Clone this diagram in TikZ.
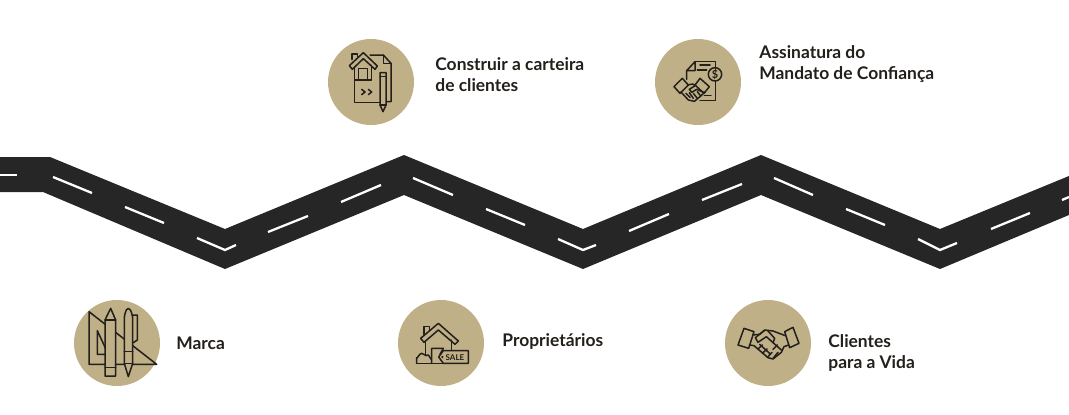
\documentclass[tikz,border=0pt]{standalone}
\usepackage{fontspec}
\setmainfont{Lato}
\usepackage{xcolor}
\usetikzlibrary{positioning}
\definecolor{roadcol}{HTML}{262626}
\definecolor{badgecol}{HTML}{BFB088}
\definecolor{inkcol}{HTML}{231F1A}
\tikzset{
  badge/.style={circle,fill=badgecol,minimum size=86pt,inner sep=0pt},
  caption/.style={align=left,inner sep=0pt,font=\fontsize{17.4}{21}\selectfont\bfseries,text=inkcol},
  lane/.style={draw=white,line width=2.3pt},
  icon/.style={draw=inkcol,line width=1.5pt,line join=round,line cap=round},
  iconfill/.style={icon,fill=badgecol}
}
\begin{document}
\begin{tikzpicture}[x=1pt,y=-1pt]
\useasboundingbox (0,0) rectangle (1069,415);
% road
\fill[roadcol] (0,157)--(50,157)--(225,229)--(404,155)--(583,229)--(761,155)--(940,229)--(1069,176)
  --(1069,215)--(940,269)--(761,195)--(583,269)--(404,195)--(225,269)--(43,192)--(0,192)--cycle;
\draw[lane] (0,175)--(17,175);
\draw[lane] (53,177)--(92,193);
\draw[lane] (125,207)--(164,223);
\draw[lane] (197,238)--(225,250)--(236,245);
\draw[lane] (268,232)--(308,216);
\draw[lane] (341,202)--(381,185);
\draw[lane] (413,178)--(453,195);
\draw[lane] (486,209)--(525,225);
\draw[lane] (558,239)--(583,250)--(596,245);
\draw[lane] (629,231)--(669,214);
\draw[lane] (702,200)--(742,184);
\draw[lane] (774,178)--(813,195);
\draw[lane] (846,209)--(885,225);
\draw[lane] (918,239)--(940,250)--(957,243);
\draw[lane] (991,229)--(1030,213);
\draw[lane] (1062,200)--(1069,197);
% badges
\node[badge] (brand) at (117,343) {};
\node[badge] (portfolio) at (371,82) {};
\node[badge] (owners) at (441,343) {};
\node[badge] (mandate) at (698,82) {};
\node[badge] (clients) at (768,343) {};
% captions
\node[caption,right=16pt of brand] (brandtxt) {Marca};
\node[caption,right=21pt of portfolio,yshift=7pt] (portfoliotxt) {Construir a carteira\\de clientes};
\node[caption,right=18pt of owners,yshift=1pt] (ownerstxt) {Propriet\'arios};
\node[caption,right=18pt of mandate,yshift=17.5pt] (mandatetxt) {Assinatura do\\Mandato de Confiança};
\node[caption,right=17pt of clients,yshift=-10pt] (clientstxt) {Clientes\\para a Vida};
% icon: house on a document
\begin{scope}[shift={(320,30)},scale=1/3]
\draw[icon] (150,75)--(190,75)--(213,100)--(213,215)--(200,215);
\draw[icon] (190,75)--(190,100)--(213,100);
\draw[icon] (103,150)--(103,218)--(180,218);
\draw[icon] (96,88)--(96,72)--(113,72)--(113,82);
\draw[iconfill] (88,107)--(130,68)--(172,108)--(165,118)--(130,86)--(97,118)--cycle;
\draw[icon] (103,112)--(103,150)--(155,150)--(155,106);
\draw[icon] (115,150)--(115,115)--(143,115)--(143,150);
\draw[icon] (125,178)--(135,186)--(125,194) (145,178)--(155,186)--(145,194);
\draw[iconfill] (180,128)--(198,128)--(198,225)--(189,245)--(180,225)--cycle;
\draw[icon] (180,140)--(198,140) (180,225)--(198,225);
\end{scope}
% icon: contract and handshake
\begin{scope}[shift={(650,30)},scale=1/3]
\draw[icon] (135,95)--(197,95)--(197,118) (197,155)--(197,212)--(150,212);
\draw[icon] (135,95)--(110,122)--(135,122)--cycle (110,122)--(110,148);
\draw[icon] (150,105)--(180,105) (142,120)--(170,120) (163,197)--(183,197);
\draw[icon] (195,133) circle (20);
\node[inner sep=0pt,text=inkcol,font=\fontsize{11}{11}\selectfont\bfseries] (coin) at (195,133) {\$};
\draw[iconfill] (72,170)--(97,145)--(115,165)--(90,190)--cycle;
\draw[iconfill] (135,165)--(150,145)--(178,170)--(162,190)--cycle;
\draw[icon] (93,186)--(115,210)--(133,214)--(150,200)--(165,186);
\draw[icon] (112,165)--(128,162)--(137,166)--(118,178)--(125,187)--(140,178)--(163,188);
\draw[icon] (108,190)--(120,202) (118,188)--(130,205) (130,190)--(142,205) (142,185)--(152,198);
\end{scope}
% icon: set square, pencil and pen
\begin{scope}[shift={(65,295)},scale=1/3]
\draw[icon] (72,50)--(275,208)--(72,208)--cycle;
\draw[icon] (97,107)--(97,178)--(130,178)--cycle;
\draw[iconfill] (120,75)--(137,40)--(152,75)--(152,243)--(120,243)--cycle;
\draw[icon] (120,75)--(152,75) (120,218)--(152,218);
\draw[iconfill] (178,65) to[out=-90,in=180] (190,40) to[out=0,in=-90] (203,65)--(203,170)--(203,205)--(190,245)--(178,205)--cycle;
\draw[icon] (178,170)--(203,170) (178,205)--(203,205);
\draw[icon] (203,60)--(217,60)--(217,135)--(205,143);
\end{scope}
% icon: house with sale tag
\begin{scope}[shift={(390,295)},scale=1/3]
\draw[icon] (102,118)--(102,95)--(118,95)--(118,105);
\draw[icon] (92,130)--(145,85)--(205,138)--(195,148)--(145,105)--(102,142)--cycle;
\draw[icon] (107,138)--(107,180) (185,135)--(185,165);
\draw[icon] (80,205)--(160,205);
\draw[icon] (80,205)--(80,188) to[out=-90,in=180] (95,175) to[out=0,in=-120] (112,180) to[out=60,in=-90] (124,192);
\draw[icon] (125,205)--(125,160)--(160,160)--(150,178);
\draw[iconfill] (160,167)--(235,167)--(235,205)--(160,205)--(146,186)--cycle;
\fill[inkcol] (157,186) circle (4);
\node[inner sep=0pt,text=inkcol,font=\fontsize{8}{8}\selectfont\bfseries] (saletag) at (195,187) {SALE};
\end{scope}
% icon: handshake
\begin{scope}[shift={(718,295)},scale=1/3]
\draw[icon] (60,150)--(78,100)--(108,110)--(92,160)--cycle;
\draw[icon] (200,110)--(225,97)--(243,145)--(215,158)--cycle;
\draw[icon] (104,120)--(125,118)--(140,105)--(165,108)--(202,122);
\draw[icon] (140,106)--(112,128)--(120,142)--(145,125)--(190,165);
\draw[icon] (150,108)--(170,130)--(165,143);
\draw[icon] (94,150)--(108,152)--(150,188)--(165,192)--(190,172)--(198,155)--(212,150);
\draw[icon] (120,162)--(133,150) (133,175)--(147,162) (125,148)--(158,178);
\draw[icon] (148,187)--(162,172) (165,190)--(180,172) (178,150)--(165,163);
\end{scope}
\end{tikzpicture}
\end{document}
